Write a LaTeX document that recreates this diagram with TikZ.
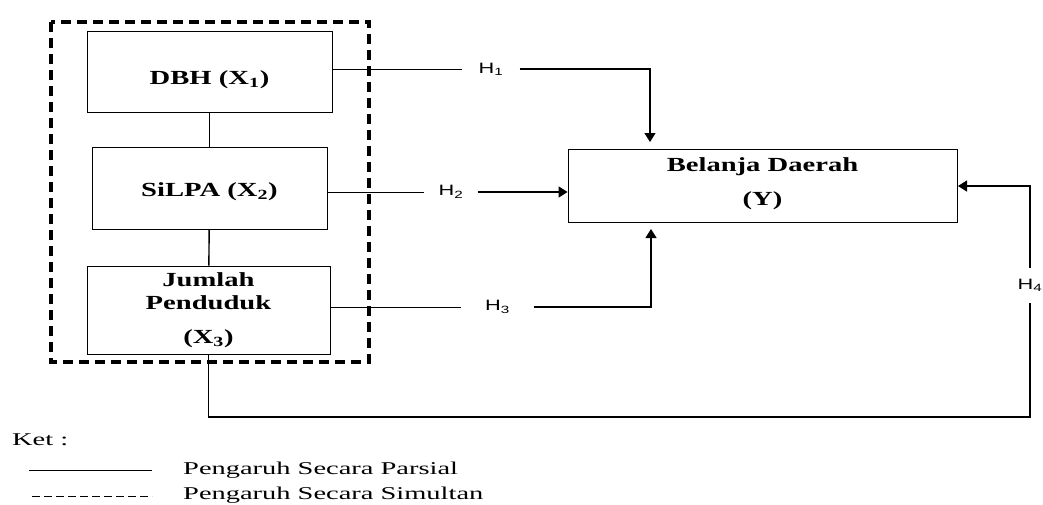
\documentclass[tikz,border=0pt]{standalone}
\usepackage{fontspec}
\setmainfont{Liberation Serif}
\newfontfamily\hfont{Liberation Sans}
\usepackage{graphicx}
\usetikzlibrary{arrows.meta}

\newcommand{\wbox}[1]{\scalebox{1.43}[1]{#1}}
\newcommand{\wleg}[1]{\scalebox{1.58}[1]{#1}}
\newcommand{\whyp}[1]{\scalebox{1.45}[1]{#1}}

\begin{document}
\begin{tikzpicture}[x=1pt,y=-1pt,
    varbox/.style 2 args={draw, line width=0.9pt, minimum width=#1, minimum height=#2, inner sep=0pt},
    boxtext/.style={font=\fontsize{20}{24}\selectfont\bfseries, align=center, inner sep=0pt},
    hyp/.style={font=\hfont\fontsize{15}{18}\selectfont, inner ysep=11pt},
    legtext/.style={font=\fontsize{18}{21}\selectfont, anchor=west, inner sep=0pt},
    partial/.style={line width=0.8pt},
    link/.style={line width=1.4pt},
    effect/.style={line width=1.3pt, -{Triangle[length=9pt,width=11pt]}},
    simbox/.style={line width=3.5pt, dash pattern=on 10pt off 6pt}]

\useasboundingbox (0,0) rectangle (1043,504);

% variables
\node[varbox={245pt}{81pt}] (dbh) at (209.5,71.5) {};
\node[varbox={235pt}{82pt}] (sil) at (209.5,188) {};
\node[varbox={243pt}{88pt}] (jum) at (208.5,310) {};
\node[varbox={389pt}{73pt}] (y) at (762.5,185.5) {};

\node[boxtext] (tdbh) at (209.5,80) {\wbox{DBH (X\textsubscript{1})}};
\node[boxtext] (tsil) at (209.5,192) {\wbox{SiLPA (X\textsubscript{2})}};
\node[boxtext] (tjum) at (208.5,310) {\wbox{Jumlah}\\[-1pt]\wbox{Penduduk}\\[10pt]\wbox{(X\textsubscript{3})}};
\node[boxtext] (ty) at (762.5,184) {\wbox{Belanja Daerah}\\[10pt]\wbox{(Y)}};

% hypotheses
\node[hyp, inner xsep=16pt] (h1) at (491,69) {\whyp{H\textsubscript{1}}};
\node[hyp, inner xsep=14pt] (h2) at (451,192) {\whyp{H\textsubscript{2}}};
\node[hyp, inner xsep=23.5pt] (h3) at (497.5,307) {\whyp{H\textsubscript{3}}};
\node[hyp, inner xsep=2pt] (h4) at (1030,285.5) {\whyp{H\textsubscript{4}}};

\coordinate (t1) at (650,142);
\coordinate (t3) at (651,229);
\coordinate (t4) at (958,186);
\coordinate (b4) at (1030,417);

\draw[link] (dbh) -- (sil);
\draw[link] (sil) -- (jum);

\draw[partial] (dbh.east |- h1.west) -- (h1.west);
\draw[effect] (h1.east) -| (t1);

\draw[partial] (sil.east |- h2.west) -- (h2.west);
\draw[effect] (h2.east) -- (h2.east -| y.west);

\draw[partial] (jum.east |- h3.west) -- (h3.west);
\draw[effect] (h3.east) -| (t3);

\draw[link] (jum.south) |- (b4) -- (h4.south);
\draw[effect] (h4.north) |- (t4);

% simultaneous frame
\draw[simbox] (51,22) rectangle (369,362);

% legend
\node[legtext] (ket) at (12,440) {\wleg{Ket :}};
\draw[partial] (29,470) -- (152,470);
\node[legtext] (lpar) at (183,470) {\wleg{Pengaruh Secara Parsial}};
\draw[partial, dash pattern=on 8pt off 4pt] (32,496) -- (152,496);
\node[legtext] (lsim) at (183,495) {\wleg{Pengaruh Secara Simultan}};

\end{tikzpicture}
\end{document}
